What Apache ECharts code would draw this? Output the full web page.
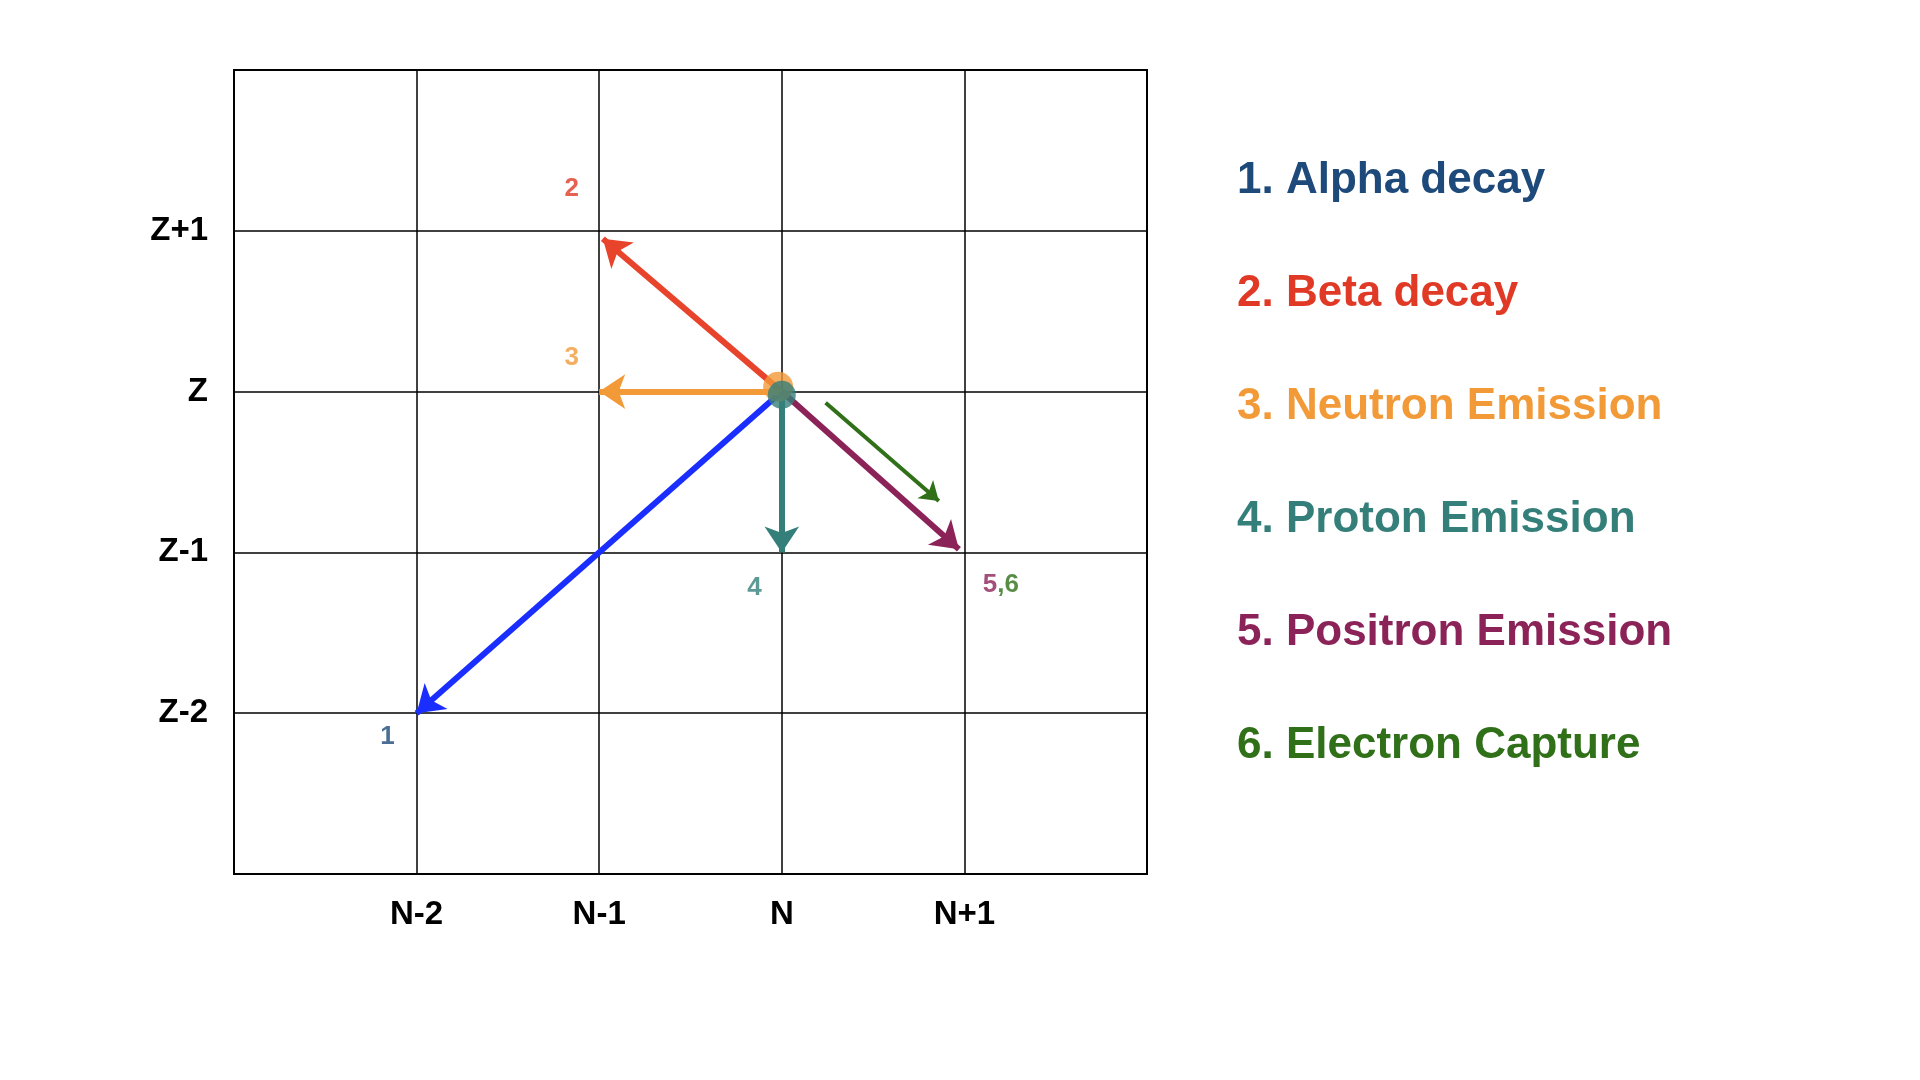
<!DOCTYPE html>
<html><head><meta charset="utf-8">
<script src="https://cdn.jsdelivr.net/npm/echarts@6/dist/echarts.min.js"></script>
<style>html,body{margin:0;background:#fff}#c{width:1920px;height:1080px}</style>
</head><body><div id="c"></div>
<script>
const xTicks = {'-2':'N-2','-1':'N-1','0':'N','1':'N+1'};
const yTicks = {'1':'Z+1','0':'Z','-1':'Z-1','-2':'Z-2'};
const legendNames = ['1. Alpha decay','2. Beta decay','3. Neutron Emission','4. Proton Emission','5. Positron Emission','6. Electron Capture'];
const legendColors = ['#1d4a7a','#e03a26','#f29a38','#357f7a','#8b2358','#2f7019'];
const arrows = [
  {name:'Alpha', from:[0,0], to:[-2,-2], color:'#1a2fff', width:6},
  {name:'Beta', from:[0,0], to:[-0.98,0.95], color:'#e8432b', width:6},
  {name:'Neutron', from:[0,0], to:[-1,0], color:'#f29a38', width:6},
  {name:'Proton', from:[0,0], to:[0,-1], color:'#357f7a', width:6},
  {name:'Positron', from:[0,0], to:[0.97,-0.98], color:'#8b2358', width:6},
  {name:'EC', from:[0.24,-0.07], to:[0.86,-0.68], color:'#2f7019', width:4}
];
const numLabels = [
  {pos:[-1.15,1.26], text:'{a|2}', color:'#e03a26'},
  {pos:[-1.15,0.21], text:'{a|3}', color:'#f29a38'},
  {pos:[-0.15,-1.22], text:'{a|4}', color:'#357f7a'},
  {pos:[1.2,-1.2], text:'{p|5}{g|,6}', color:'#8b2358'},
  {pos:[-2.16,-2.15], text:'{a|1}', color:'#1d4a7a'}
];
const chart = echarts.init(document.getElementById('c'));
const axisCommon = {type:'value', min:-3, max:2, interval:1,
  axisLine:{show:false}, axisTick:{show:false},
  splitLine:{show:true, lineStyle:{color:'#000', width:1.5}}};
const series = arrows.map(a => ({
  type:'lines', coordinateSystem:'cartesian2d', z:3,
  symbol:['none','arrow'], symbolSize: a.width>5 ? 26 : 18,
  lineStyle:{color:a.color, width:a.width, opacity:1},
  data:[{coords:[a.from, a.to]}]
}));
series.push({type:'scatter', z:4, symbolSize:30, itemStyle:{color:'#f29a38'}, data:[[-0.02,0.03]]});
series.push({type:'scatter', z:5, symbolSize:28, itemStyle:{color:'#357f7a'}, data:[[0,-0.02]]});
series.push({type:'scatter', z:5, symbolSize:0, data:numLabels.map(l=>({value:l.pos,
  label:{show:true, position:'inside', formatter:l.text,
    rich:{a:{color:l.color,fontSize:26,fontWeight:'bold',fontFamily:'Liberation Sans'},
          p:{color:'#8b2358',fontSize:26,fontWeight:'bold',fontFamily:'Liberation Sans'},
          g:{color:'#2f7019',fontSize:26,fontWeight:'bold',fontFamily:'Liberation Sans'}}}}))});
chart.setOption({
  animation:false,
  grid:{left:234, top:70, width:913, height:804, show:true, borderColor:'#000', borderWidth:2, backgroundColor:'transparent'},
  xAxis:Object.assign({}, axisCommon, {axisLabel:{margin:24, fontSize:33, fontWeight:'bold', color:'#000', fontFamily:'Liberation Sans',
    formatter:v=>xTicks[String(v)]||''}}),
  yAxis:Object.assign({}, axisCommon, {axisLabel:{margin:26, fontSize:33, fontWeight:'bold', color:'#000', fontFamily:'Liberation Sans',
    formatter:v=>yTicks[String(v)]||''}}),
  graphic: legendNames.map((n,i)=>({type:'text', left:1237, top:183+i*113-24,
    style:{text:n, fill:legendColors[i], font:'bold 44px "Liberation Sans"'}})),
  series
});
</script></body></html>
